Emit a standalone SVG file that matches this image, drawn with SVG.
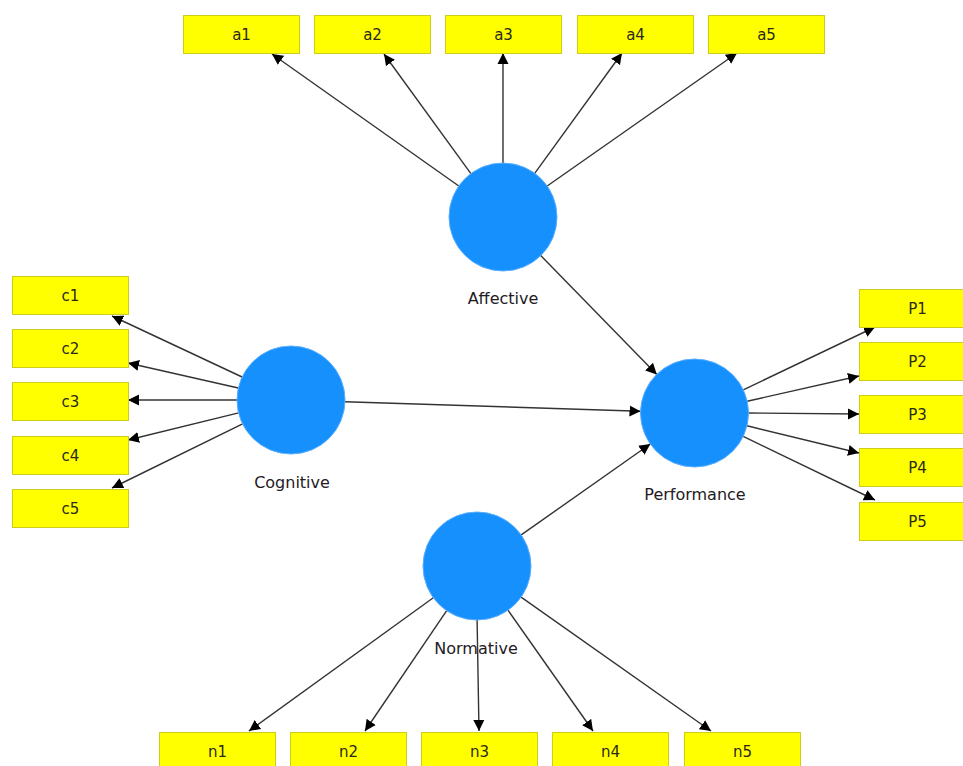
<svg xmlns="http://www.w3.org/2000/svg" width="963" height="766" viewBox="0 0 963 766">
<style>
.box{fill:#FFFF00;stroke:#CDCD1E;stroke-width:1}
.bt{font-family:"DejaVu Sans",sans-serif;font-size:15px;fill:#2a2a1a;text-anchor:middle}
.lv{fill:#1690FC;stroke:#5AAEFF;stroke-width:1}
.lt{font-family:"DejaVu Sans",sans-serif;font-size:16px;fill:#231a24;text-anchor:middle}
.cn line{stroke:#333;stroke-width:1.4;marker-end:url(#ah)}
</style>
<defs>
<marker id="ah" markerUnits="userSpaceOnUse" markerWidth="12" markerHeight="12" refX="11" refY="5.5" orient="auto" viewBox="0 0 12 11">
<path d="M0,0 L11,5.5 L0,11 z" fill="#000"/>
</marker>
</defs>
<rect width="963" height="766" fill="#fff"/>
<g id="connectors" class="cn">
<line x1="458.8" y1="186" x2="272" y2="54"/>
<line x1="470.9" y1="173.6" x2="384" y2="54"/>
<line x1="503" y1="163" x2="503" y2="53"/>
<line x1="534.7" y1="173.3" x2="622" y2="53"/>
<line x1="547.2" y1="186" x2="737" y2="53"/>
<line x1="242.1" y1="377" x2="112" y2="316"/>
<line x1="238.3" y1="388" x2="128" y2="363"/>
<line x1="237" y1="400" x2="128" y2="400"/>
<line x1="238.6" y1="412.9" x2="128" y2="440"/>
<line x1="242.6" y1="423.8" x2="112" y2="488"/>
<line x1="743.3" y1="389.8" x2="875" y2="327"/>
<line x1="747.2" y1="401.2" x2="859" y2="376"/>
<line x1="748.5" y1="413" x2="859" y2="414"/>
<line x1="747" y1="425.8" x2="859" y2="453"/>
<line x1="743.2" y1="436.4" x2="875" y2="500"/>
<line x1="433.3" y1="597.7" x2="249" y2="731"/>
<line x1="446.7" y1="610.7" x2="365" y2="731"/>
<line x1="477.1" y1="620" x2="479" y2="731"/>
<line x1="508" y1="610.2" x2="593" y2="731"/>
<line x1="521.1" y1="597.1" x2="711" y2="731"/>
<line x1="540.7" y1="255.6" x2="656.8" y2="374.4"/>
<line x1="345" y1="401.7" x2="640.5" y2="411.3"/>
<line x1="521.2" y1="534.9" x2="650.3" y2="444"/>
</g>
<g id="Affective"><circle class="lv" cx="503" cy="217" r="54"/><text class="lt" x="503" y="304">Affective</text></g>
<g id="Cognitive"><circle class="lv" cx="291" cy="400" r="54"/><text class="lt" x="292" y="488">Cognitive</text></g>
<g id="Performance"><circle class="lv" cx="694.5" cy="413" r="54"/><text class="lt" x="695" y="500">Performance</text></g>
<g id="Normative"><circle class="lv" cx="477" cy="566" r="54"/><text class="lt" x="476" y="654">Normative</text></g>
<g id="a1"><rect class="box" x="183.5" y="15.5" width="116" height="38"/><text class="bt" x="241.5" y="40">a1</text></g>
<g id="a2"><rect class="box" x="314.5" y="15.5" width="116" height="38"/><text class="bt" x="372.5" y="40">a2</text></g>
<g id="a3"><rect class="box" x="445.5" y="15.5" width="116" height="38"/><text class="bt" x="503.5" y="40">a3</text></g>
<g id="a4"><rect class="box" x="577.5" y="15.5" width="116" height="38"/><text class="bt" x="635.5" y="40">a4</text></g>
<g id="a5"><rect class="box" x="708.5" y="15.5" width="116" height="38"/><text class="bt" x="766.5" y="40">a5</text></g>
<g id="c1"><rect class="box" x="12.5" y="276.5" width="116" height="38"/><text class="bt" x="70.5" y="301">c1</text></g>
<g id="c2"><rect class="box" x="12.5" y="329.5" width="116" height="38"/><text class="bt" x="70.5" y="354">c2</text></g>
<g id="c3"><rect class="box" x="12.5" y="382.5" width="116" height="38"/><text class="bt" x="70.5" y="407">c3</text></g>
<g id="c4"><rect class="box" x="12.5" y="436.5" width="116" height="38"/><text class="bt" x="70.5" y="461">c4</text></g>
<g id="c5"><rect class="box" x="12.5" y="489.5" width="116" height="38"/><text class="bt" x="70.5" y="514">c5</text></g>
<g id="P1"><rect class="box" x="859.5" y="289.5" width="116" height="38"/><text class="bt" x="917.5" y="314">P1</text></g>
<g id="P2"><rect class="box" x="859.5" y="342.5" width="116" height="38"/><text class="bt" x="917.5" y="367">P2</text></g>
<g id="P3"><rect class="box" x="859.5" y="395.5" width="116" height="38"/><text class="bt" x="917.5" y="420">P3</text></g>
<g id="P4"><rect class="box" x="859.5" y="448.5" width="116" height="38"/><text class="bt" x="917.5" y="473">P4</text></g>
<g id="P5"><rect class="box" x="859.5" y="502.5" width="116" height="38"/><text class="bt" x="917.5" y="527">P5</text></g>
<g id="n1"><rect class="box" x="159.5" y="732.5" width="116" height="38"/><text class="bt" x="217.5" y="757">n1</text></g>
<g id="n2"><rect class="box" x="290.5" y="732.5" width="116" height="38"/><text class="bt" x="348.5" y="757">n2</text></g>
<g id="n3"><rect class="box" x="421.5" y="732.5" width="116" height="38"/><text class="bt" x="479.5" y="757">n3</text></g>
<g id="n4"><rect class="box" x="552.5" y="732.5" width="116" height="38"/><text class="bt" x="610.5" y="757">n4</text></g>
<g id="n5"><rect class="box" x="684.5" y="732.5" width="116" height="38"/><text class="bt" x="742.5" y="757">n5</text></g>
</svg>
